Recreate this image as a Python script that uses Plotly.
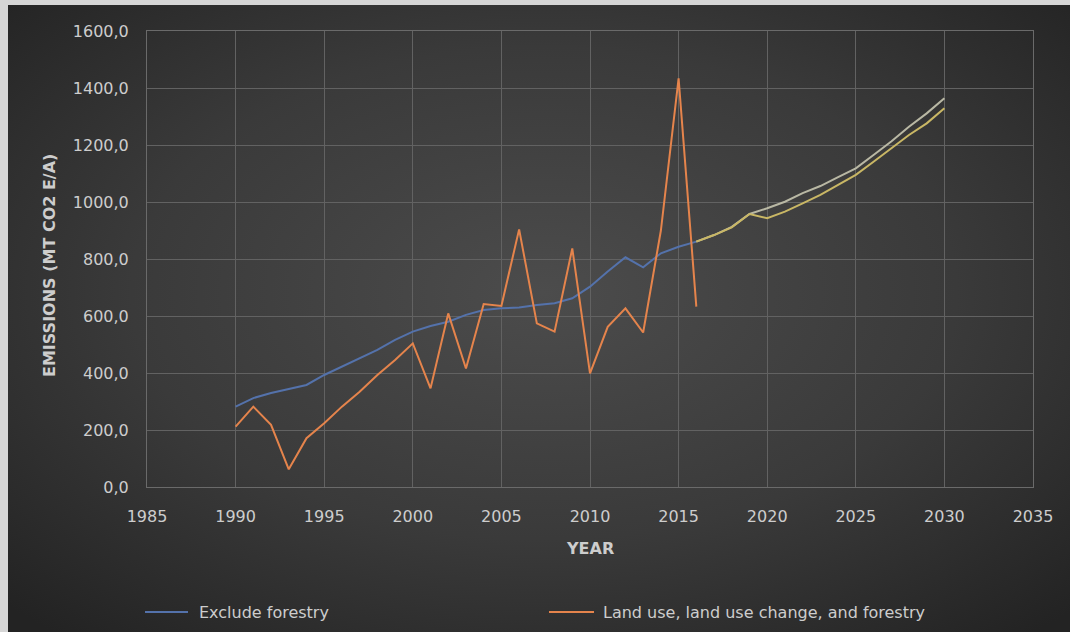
import base64
import plotly.graph_objects as go

# ---- data ----
years_hist = list(range(1990, 2017))
exclude_forestry = [282, 312, 330, 344, 358, 393, 422, 452, 481, 516, 545, 565, 580, 604,
                    621, 627, 630, 639, 645, 662, 703, 756, 806, 771, 820, 843, 861]
lulucf = [212, 282, 218, 62, 171, 224, 282, 334, 393, 446, 504, 346, 609, 416,
          642, 635, 904, 574, 545, 837, 399, 562, 627, 542, 900, 1434, 633]
years_proj = list(range(2016, 2031))
proj_exclude = [861, 884, 913, 958, 978, 1001, 1031, 1056, 1087, 1118, 1165, 1212, 1264, 1311, 1364]
proj_lulucf = [861, 884, 911, 958, 943, 966, 995, 1025, 1060, 1095, 1141, 1188, 1235, 1276, 1329]
x_ticks = list(range(1985, 2036, 5))
y_ticks = list(range(0, 1601, 200))
series_names = ["Exclude forestry", "Land use, land use change, and forestry"]

FONT = "DejaVu Sans"
TXT = "#cdcdcd"
BLUE, ORANGE = "#5472ab", "#e5844c"

fig = go.Figure()
fig.add_trace(go.Scatter(x=years_hist, y=exclude_forestry, mode="lines", name=series_names[0],
                         line=dict(color=BLUE, width=2)))
fig.add_trace(go.Scatter(x=years_hist, y=lulucf, mode="lines", name=series_names[1],
                         line=dict(color=ORANGE, width=2)))
fig.add_trace(go.Scatter(x=years_proj, y=proj_exclude, mode="lines", showlegend=False,
                         line=dict(color="#b9b8a4", width=2)))
fig.add_trace(go.Scatter(x=years_proj, y=proj_lulucf, mode="lines", showlegend=False,
                         line=dict(color="#c9b765", width=2)))

# background gradient
W, H = 1070, 640
svg = (f'<svg xmlns="http://www.w3.org/2000/svg" width="{W}" height="{H}" viewBox="0 0 {W} {H}" '
       f'preserveAspectRatio="none"><defs><radialGradient id="g" cx="50%" cy="45%" r="70%">'
       f'<stop offset="0" stop-color="#4c4c4c"/><stop offset="0.55" stop-color="#3a3a3a"/>'
       f'<stop offset="1" stop-color="#232323"/></radialGradient></defs>'
       f'<rect x="0" y="0" width="{W}" height="{H}" fill="url(#g)"/></svg>')
src = "data:image/svg+xml;base64," + base64.b64encode(svg.encode()).decode()

L, R, T, B = 147, 1033, 31, 487
pw, ph = R - L, B - T
def px(x): return (x - L) / pw
def py(y): return (B - y) / ph

fig.add_layout_image(dict(source=src, xref="paper", yref="paper", x=px(8), y=py(5),
                          sizex=px(1080) - px(8), sizey=py(5) - py(645), sizing="stretch",
                          xanchor="left", yanchor="top", layer="below"))

axis_common = dict(showgrid=True, gridcolor="#626262", gridwidth=1, showline=True,
                   linecolor="#6a6a6a", linewidth=1, mirror=True, zeroline=False,
                   tickfont=dict(family=FONT, size=16, color=TXT))

# legend (drawn as line swatches + text labels below the axis title)
legend_y = py(612)
legend_items = [(series_names[0], BLUE, 145, 188, 197), (series_names[1], ORANGE, 549, 594, 601)]
shapes, annotations = [], []
for name, color, x0, x1, xt in legend_items:
    shapes.append(dict(type="line", xref="paper", yref="paper", x0=px(x0), x1=px(x1),
                       y0=legend_y, y1=legend_y, line=dict(color=color, width=2)))
    annotations.append(dict(text=name, xref="paper", yref="paper", x=px(xt), y=legend_y,
                            xanchor="left", yanchor="middle", showarrow=False,
                            font=dict(family=FONT, size=16, color=TXT)))

annotations += [
    dict(text="<b>EMISSIONS (MT CO2 E/A)</b>", xref="paper", yref="paper", x=px(49), y=py(266),
         textangle=-90, showarrow=False, xanchor="center", yanchor="middle",
         font=dict(family=FONT, size=16, color=TXT)),
    dict(text="<b>YEAR</b>", xref="paper", yref="paper", x=px(590), y=py(548),
         showarrow=False, xanchor="center", yanchor="middle",
         font=dict(family=FONT, size=16, color=TXT)),
]

fig.update_layout(
    width=1070, height=632,
    margin=dict(l=L, r=1070 - R, t=T, b=632 - B),
    paper_bgcolor="#d6d6d6", plot_bgcolor="rgba(0,0,0,0)",
    separators=",.",
    xaxis=dict(range=[1985, 2035], tickvals=x_ticks, ticklabelstandoff=15, **axis_common),
    yaxis=dict(range=[0, 1600], tickvals=y_ticks, tickformat=".1f", ticklabelstandoff=14,
               **axis_common),
    showlegend=False,
    shapes=shapes,
    annotations=annotations,
)

fig.write_html("out.html")
